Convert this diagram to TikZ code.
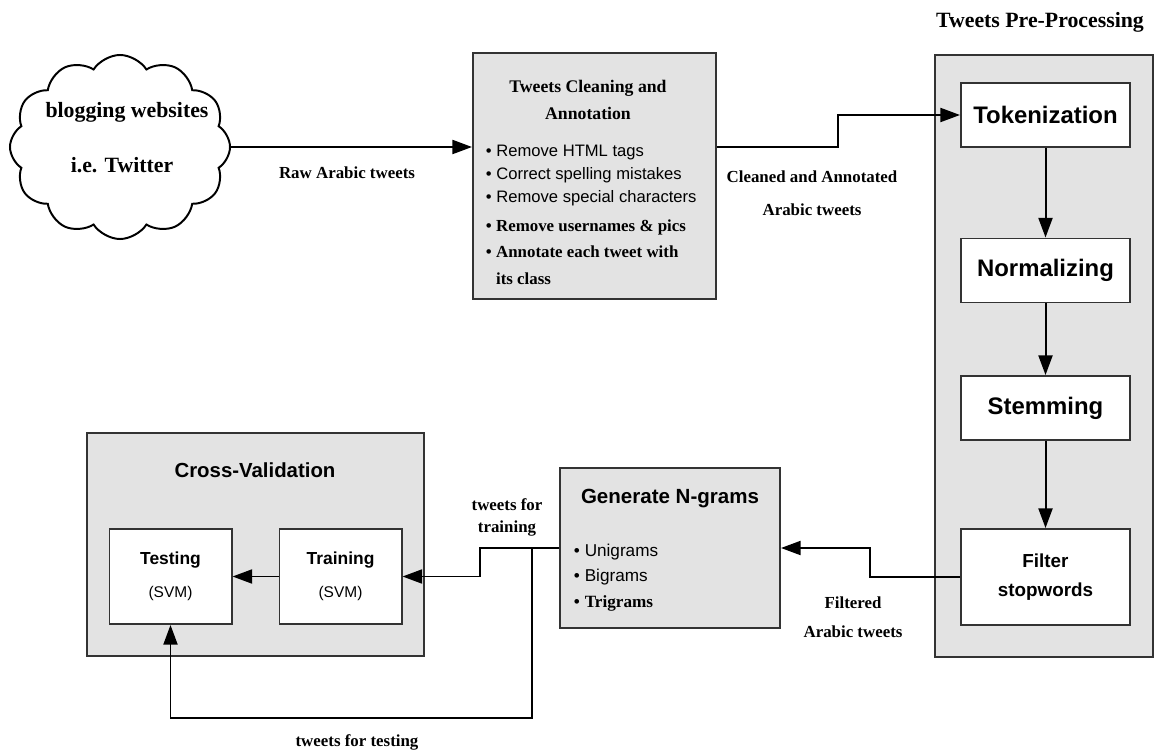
\documentclass[tikz,border=0pt]{standalone}
\usepackage{fontspec}
\setmainfont{Liberation Serif}
\setsansfont{Liberation Sans}
\usetikzlibrary{arrows.meta,fit,shapes.symbols}

\begin{document}
\begin{tikzpicture}[x=0.025cm, y=-0.025cm, line width=1.4pt,
    >={Triangle[length=14pt,width=10pt]},
    groupbox/.style = {draw=black!80, fill=black!11, inner sep=0pt},
    stepbox/.style = {draw=black!80, fill=white, inner sep=0pt, align=center,
        minimum width=4.225cm, minimum height=1.6cm,
        font=\sffamily\bfseries\fontsize{17}{20}\selectfont},
    svmbox/.style = {stepbox, minimum width=3.05cm, minimum height=2.375cm,
        font=\sffamily\bfseries\fontsize{12.4}{23.5}\selectfont},
    lbl/.style = {inner sep=0pt, align=center,
        font=\rmfamily\bfseries\fontsize{12}{14}\selectfont}]
\useasboundingbox (0,0) rectangle (1161,754);

% source
\node[cloud, draw, cloud puffs=12, cloud puff arc=115, aspect=1.19,
    minimum width=5.5cm, minimum height=4.6cm] (blog) at (120,147) {};
\node[lbl, font=\rmfamily\bfseries\fontsize{15.5}{18}\selectfont] (blog1) at (127,112) {blogging websites};
\node[lbl, font=\rmfamily\bfseries\fontsize{15.5}{18}\selectfont] (blog2) at (122,165) {i.e. Twitter};

% cleaning
\node[groupbox, fit={(473,53) (716,299)}] (clean) {};
\node[lbl, font=\rmfamily\bfseries\fontsize{12.6}{19}\selectfont] (cleantitle) at (588,100)
    {Tweets Cleaning and\\Annotation};
\node[inner sep=0pt, anchor=north west, align=left,
    font=\sffamily\fontsize{11.8}{16.4}\selectfont] (cleanlist) at (485,144)
    {\textbullet\ Remove HTML tags\\
     \textbullet\ Correct spelling mistakes\\
     \textbullet\ Remove special characters\\[4.2pt]
     {\rmfamily\bfseries\fontsize{12}{16.4}\selectfont \textbullet\ Remove usernames \& pics}\\[2.1pt]
     {\rmfamily\bfseries\fontsize{12}{16.4}\selectfont \textbullet\ Annotate each tweet with}\\[2.8pt]
     {\rmfamily\bfseries\fontsize{12}{16.4}\selectfont \phantom{\textbullet\ }its class}};

% pre-processing
\node[lbl, font=\rmfamily\bfseries\fontsize{15.5}{18}\selectfont] (pretitle) at (1040,22) {Tweets Pre-Processing};
\node[groupbox, fit={(935,55) (1153,657)}] (pre) {};
\node[stepbox] (tok) at (1045.5,115) {Tokenization};
\node[stepbox] (norm) at (1045.5,270.5) {Normalizing};
\node[stepbox] (stem) at (1045.5,408) {Stemming};
\node[stepbox, minimum height=2.4cm, font=\sffamily\bfseries\fontsize{13.4}{20.6}\selectfont]
    (filt) at (1045.5,577) {Filter\\stopwords};

% n-grams
\node[groupbox, fit={(560,468) (780,628)}] (gen) {};
\node[inner sep=0pt, font=\sffamily\bfseries\fontsize{14.6}{17}\selectfont] (gentitle) at (670,499) {Generate N-grams};
\node[inner sep=0pt, anchor=north west, align=left,
    font=\sffamily\fontsize{12.2}{18}\selectfont] (genlist) at (573,543)
    {\textbullet\ Unigrams\\
     \textbullet\ Bigrams\\
     \textbullet\ {\rmfamily\bfseries Trigrams}};

% cross-validation
\node[groupbox, fit={(87,433) (424,656)}] (cross) {};
\node[inner sep=0pt, font=\sffamily\bfseries\fontsize{14.5}{17}\selectfont] (crosstitle) at (255,470) {Cross-Validation};
\node[svmbox] (test) at (170.5,576.5) {Testing\\{\mdseries\fontsize{11}{13}\selectfont (SVM)}};
\node[svmbox] (train) at (340.5,576.5) {Training\\{\mdseries\fontsize{11}{13}\selectfont (SVM)}};

% connectors
\draw[->] (blog.east) -- (clean.west |- blog.east);
\draw[->] (clean.east |- blog.east) -| (838,115) -- (tok.west);
\draw[->] (tok) -- (norm);
\draw[->] (norm) -- (stem);
\draw[->] (stem) -- (filt);
\draw[->] (filt.west) -- ++(-90,0) |- (gen.east);
\draw[->] (gen.west) -- ++(-79,0) |- (train.east);
\draw[->] (train.west) -- (test.east);
\coordinate (split) at (532,548);
\draw[->] (split) -- ++(0,170) -| (test.south);

% labels
\node[lbl] (rawlbl) at (347,173) {Raw Arabic tweets};
\node[lbl, font=\rmfamily\bfseries\fontsize{12}{23.5}\selectfont] (cleanlbl) at (812,193)
    {Cleaned and Annotated\\Arabic tweets};
\node[lbl, font=\rmfamily\bfseries\fontsize{12}{20.6}\selectfont] (filtlbl) at (853,617)
    {Filtered\\Arabic tweets};
\node[lbl, font=\rmfamily\bfseries\fontsize{12}{15.6}\selectfont] (trainlbl) at (507,517)
    {tweets for\\training};
\node[lbl] (testlbl) at (357,742) {tweets for testing};
\end{tikzpicture}
\end{document}
